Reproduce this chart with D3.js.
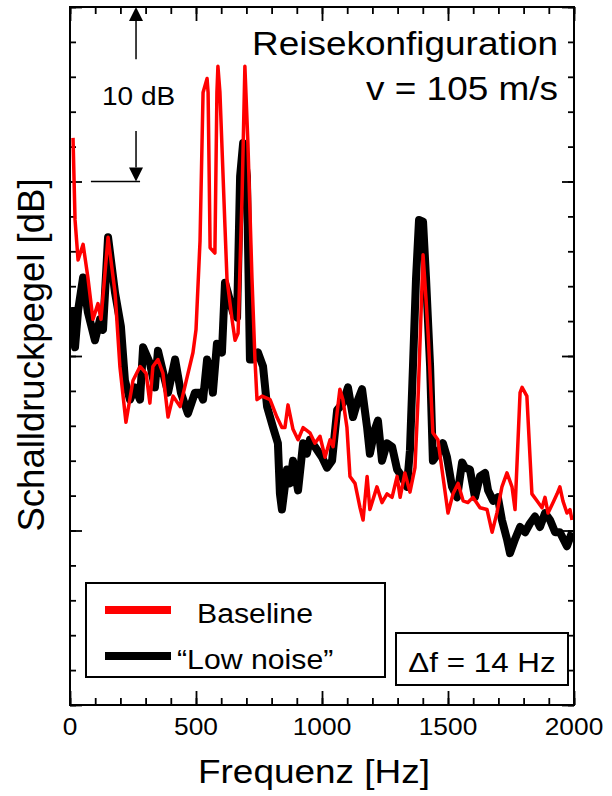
<!DOCTYPE html>
<html>
<head>
<meta charset="utf-8">
<script src="https://cdn.jsdelivr.net/npm/d3@7"></script>
<style>
  body { margin: 0; background: #fff; }
  svg { display: block; font-family: 'Liberation Sans', Arial, sans-serif; }
</style>
</head>
<body>
<svg id="chart"></svg>
<script>
// Frequenz [Hz] / Schalldruckpegel [dB]
const baselineFreq = [12, 20, 32, 52, 71, 91, 111, 123, 151, 179, 198, 222, 250, 278, 302, 317, 329, 349, 369, 389, 409, 437, 460, 488, 500, 516, 528, 544, 548, 556, 575, 583, 587, 595, 615, 623, 643, 655, 667, 683, 694, 706, 722, 734, 742, 762, 794, 821, 841, 853, 865, 885, 905, 925, 952, 972, 992, 1012, 1032, 1044, 1071, 1083, 1099, 1111, 1131, 1151, 1163, 1179, 1190, 1218, 1238, 1258, 1278, 1298, 1310, 1329, 1349, 1369, 1381, 1401, 1413, 1421, 1440, 1460, 1480, 1500, 1520, 1540, 1560, 1579, 1599, 1627, 1655, 1675, 1694, 1714, 1734, 1754, 1766, 1786, 1794, 1813, 1833, 1853, 1873, 1885, 1897, 1917, 1933, 1944, 1956, 1972, 1984, 1992];
const baselineLevel = [72.5, 67.8, 65.5, 66.4, 64.5, 62.1, 63.0, 62.1, 66.8, 63.6, 59.4, 56.2, 58.6, 59.4, 59.0, 57.3, 59.4, 59.8, 59.0, 56.5, 57.7, 57.1, 58.5, 60.2, 61.5, 66.6, 75.1, 75.9, 75.1, 66.2, 65.9, 75.1, 76.6, 75.1, 67.4, 64.4, 62.1, 60.9, 61.3, 69.3, 76.6, 72.2, 64.5, 59.8, 57.5, 57.7, 57.5, 56.5, 55.9, 55.9, 57.2, 55.8, 55.2, 55.9, 55.6, 55.0, 55.4, 54.2, 55.2, 54.8, 58.1, 57.5, 55.9, 53.1, 52.7, 51.3, 50.6, 53.1, 51.2, 52.5, 51.6, 52.1, 51.9, 53.1, 51.9, 53.3, 52.2, 53.6, 57.5, 65.8, 63.2, 61.3, 55.6, 55.2, 53.1, 51.0, 52.1, 52.7, 51.7, 51.6, 51.9, 51.3, 51.2, 49.9, 51.0, 52.5, 53.3, 52.5, 51.2, 57.9, 58.2, 57.7, 52.1, 51.7, 51.3, 51.9, 51.0, 51.6, 52.1, 52.5, 51.7, 51.0, 51.2, 50.6];

const lowNoiseFreq = [4, 20, 32, 52, 71, 99, 119, 131, 151, 179, 202, 218, 238, 258, 278, 290, 317, 337, 349, 377, 389, 417, 440, 468, 496, 516, 528, 544, 556, 567, 583, 603, 615, 627, 647, 663, 675, 687, 702, 714, 726, 746, 766, 782, 806, 825, 833, 841, 861, 873, 885, 905, 925, 940, 952, 972, 1000, 1020, 1040, 1060, 1083, 1103, 1123, 1143, 1159, 1179, 1190, 1210, 1222, 1238, 1258, 1278, 1298, 1317, 1337, 1349, 1361, 1373, 1385, 1401, 1413, 1429, 1440, 1460, 1480, 1496, 1516, 1536, 1556, 1567, 1587, 1607, 1627, 1647, 1659, 1679, 1698, 1714, 1734, 1746, 1766, 1786, 1806, 1825, 1845, 1865, 1885, 1905, 1925, 1944, 1972, 1992];
const lowNoiseLevel = [62.8, 60.5, 62.6, 64.5, 62.5, 60.9, 62.1, 61.5, 66.8, 63.6, 61.7, 58.6, 57.5, 58.2, 57.5, 60.5, 59.6, 58.2, 60.3, 58.6, 57.9, 59.8, 57.9, 56.7, 57.9, 57.9, 57.5, 59.8, 59.2, 57.9, 60.7, 60.2, 64.2, 63.6, 62.5, 62.2, 70.3, 72.2, 70.3, 59.8, 59.8, 60.2, 59.4, 57.1, 55.9, 55.0, 52.1, 51.2, 53.5, 52.7, 54.0, 52.3, 55.0, 54.4, 55.2, 54.8, 54.2, 53.6, 54.0, 56.9, 57.3, 58.2, 56.5, 57.5, 58.1, 55.9, 54.4, 55.8, 56.3, 54.0, 55.0, 54.8, 53.5, 53.1, 52.5, 54.6, 59.4, 64.4, 67.8, 67.7, 64.4, 59.4, 54.0, 54.4, 55.0, 54.2, 52.5, 51.9, 53.9, 53.6, 53.5, 51.9, 53.1, 53.3, 52.3, 51.7, 51.9, 50.6, 49.5, 48.7, 49.5, 50.2, 49.9, 50.4, 50.8, 50.2, 51.0, 50.6, 49.9, 49.9, 49.1, 49.9];

const xMajorTicks = [0, 500, 1000, 1500, 2000];
const yMajorTicks = [40, 50, 60, 70, 80];
const seriesNames = ['Baseline', '\u201cLow noise\u201d'];
const seriesColors = ['#ff0000', '#000000'];

const W = 612;
const H = 796;
const margin = { top: 7, right: 38, bottom: 91, left: 70 };
const width = W - margin.left - margin.right;
const height = H - margin.top - margin.bottom;
const stretch = 1.12;

const svgEl = d3.select('#chart').attr('width', W).attr('height', H);
const svg = svgEl.append('g').attr('transform', `translate(${margin.left},${margin.top})`);

const x = d3.scaleLinear().domain([0, 2000]).range([0, width]);
const y = d3.scaleLinear().domain([40, 80]).range([height, 0]);

const xMinor = d3.range(0, 2001, 100);
const yMinor = d3.range(40, 81, 2);

function styleAxis(g) {
  g.select('.domain').remove();
  g.selectAll('.tick line').attr('stroke', '#000').attr('stroke-width', 1.8);
}

// minor + major ticks on all four sides, pointing inward
svg.append('g').attr('transform', `translate(0,${height})`)
  .call(d3.axisBottom(x).tickValues(xMinor).tickSize(-7).tickFormat(''))
  .call(styleAxis);
svg.append('g').attr('transform', `translate(0,${height})`)
  .call(d3.axisBottom(x).tickValues(xMajorTicks).tickSize(-14).tickFormat(''))
  .call(styleAxis);
svg.append('g')
  .call(d3.axisTop(x).tickValues(xMinor).tickSize(-7).tickFormat(''))
  .call(styleAxis);
svg.append('g')
  .call(d3.axisTop(x).tickValues(xMajorTicks).tickSize(-14).tickFormat(''))
  .call(styleAxis);
svg.append('g')
  .call(d3.axisLeft(y).tickValues(yMinor).tickSize(-6).tickFormat(''))
  .call(styleAxis);
svg.append('g')
  .call(d3.axisLeft(y).tickValues(yMajorTicks).tickSize(-12).tickFormat(''))
  .call(styleAxis);
svg.append('g').attr('transform', `translate(${width},0)`)
  .call(d3.axisRight(y).tickValues(yMinor).tickSize(-6).tickFormat(''))
  .call(styleAxis);
svg.append('g').attr('transform', `translate(${width},0)`)
  .call(d3.axisRight(y).tickValues(yMajorTicks).tickSize(-12).tickFormat(''))
  .call(styleAxis);

function addText(parent, tx, ty, str, size, anchor) {
  return parent.append('text')
    .attr('transform', `translate(${tx},${ty}) scale(${stretch},1)`)
    .attr('text-anchor', anchor || 'start')
    .attr('font-size', size)
    .attr('fill', '#000')
    .text(str);
}

// x tick labels
xMajorTicks.forEach((t) => {
  addText(svg, x(t), height + 30, t, 23.5, 'middle');
});

// curves
const line = d3.line().x((d) => x(d[0])).y((d) => y(d[1]));
const lowNoise = d3.zip(lowNoiseFreq, lowNoiseLevel);
const baseline = d3.zip(baselineFreq, baselineLevel);

const clip = svgEl.append('defs').append('clipPath').attr('id', 'plotClip');
clip.append('rect').attr('width', width).attr('height', height);

const plot = svg.append('g').attr('clip-path', 'url(#plotClip)');
plot.append('path')
  .datum(lowNoise)
  .attr('d', line)
  .attr('fill', 'none')
  .attr('stroke', seriesColors[1])
  .attr('stroke-width', 8)
  .attr('stroke-linejoin', 'round');
plot.append('path')
  .datum(baseline)
  .attr('d', line)
  .attr('fill', 'none')
  .attr('stroke', seriesColors[0])
  .attr('stroke-width', 3.5)
  .attr('stroke-linejoin', 'round');

// frame
svg.append('rect')
  .attr('width', width).attr('height', height)
  .attr('fill', 'none').attr('stroke', '#000').attr('stroke-width', 2);

// 10 dB scale bar
const ax = x(262);
const head = 14;
const ann = svg.append('g').attr('stroke', '#000').attr('stroke-width', 1.5);
ann.append('line').attr('x1', ax).attr('x2', ax).attr('y1', y(80) + head).attr('y2', y(77));
ann.append('line').attr('x1', ax).attr('x2', ax).attr('y1', y(72.9)).attr('y2', y(70) - head);
ann.append('line').attr('x1', x(83)).attr('x2', x(278)).attr('y1', y(70)).attr('y2', y(70));
svg.append('path')
  .attr('d', `M${ax},${y(80)}L${ax - 7},${y(80) + head}L${ax + 7},${y(80) + head}Z`)
  .attr('fill', '#000');
svg.append('path')
  .attr('d', `M${ax},${y(70)}L${ax - 7},${y(70) - head}L${ax + 7},${y(70) - head}Z`)
  .attr('fill', '#000');
addText(svg, x(127), 98, '10 dB', 25);

// titles
addText(svg, width - 16, 48, 'Reisekonfiguration', 33, 'end');
addText(svg, width - 16, 93, 'v = 105 m/s', 33, 'end');

// legend
const legend = svg.append('g');
legend.append('rect')
  .attr('x', 16).attr('y', 576).attr('width', 299).attr('height', 94)
  .attr('fill', '#fff').attr('stroke', '#000').attr('stroke-width', 2);
seriesNames.forEach((name, i) => {
  const ly = 603 + i * 46;
  legend.append('line')
    .attr('x1', 35).attr('x2', 101).attr('y1', ly).attr('y2', ly)
    .attr('stroke', seriesColors[i]).attr('stroke-width', 8);
  addText(legend, i === 0 ? 127 : 107, ly + 13, name, 27);
});

// resolution box
const df = svg.append('g');
df.append('rect')
  .attr('x', 326).attr('y', 626).attr('width', 172).attr('height', 52)
  .attr('fill', '#fff').attr('stroke', '#000').attr('stroke-width', 2);
addText(df, 412, 665, '\u0394f = 14 Hz', 28, 'middle');

// axis titles
addText(svg, width / 2 - 8, height + 78, 'Frequenz [Hz]', 33, 'middle');
svg.append('text')
  .attr('transform', `translate(${44 - margin.left},${355 - margin.top}) rotate(-90)`)
  .attr('text-anchor', 'middle')
  .attr('font-size', 36.5)
  .text('Schalldruckpegel [dB]');
</script>
</body>
</html>
